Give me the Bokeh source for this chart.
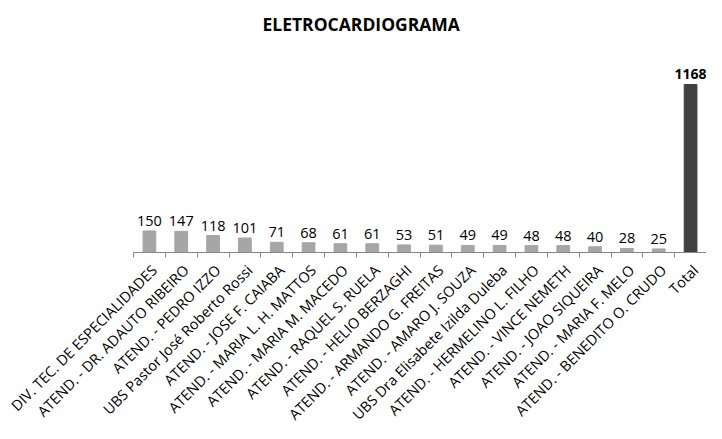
from math import pi
from bokeh.plotting import figure
from bokeh.models import Range1d, FixedTicker, ColumnDataSource, LabelSet, Label
from bokeh.embed import file_html
from bokeh.resources import INLINE
from bokeh.core.properties import value

title = "ELETROCARDIOGRAMA"
categories = [
    "DIV. TEC. DE ESPECIALIDADES",
    "ATEND. - DR. ADAUTO RIBEIRO",
    "ATEND. - PEDRO IZZO",
    "UBS Pastor José Roberto Rossi",
    "ATEND. - JOSE F. CAIABA",
    "ATEND. - MARIA L. H. MATTOS",
    "ATEND. - MARIA M. MACEDO",
    "ATEND. - RAQUEL S. RUELA",
    "ATEND. - HELIO BERZAGHI",
    "ATEND. - ARMANDO G. FREITAS",
    "ATEND. - AMARO J. SOUZA",
    "UBS Dra Elisabete Izilda Duleba",
    "ATEND. - HERMELINO L. FILHO",
    "ATEND. - VINCE NEMETH",
    "ATEND. - JOAO SIQUEIRA",
    "ATEND. - MARIA F. MELO",
    "ATEND. - BENEDITO O. CRUDO",
    "Total",
]
values = [150, 147, 118, 101, 71, 68, 61, 61, 53, 51, 49, 49, 48, 48, 40, 28, 25, 1168]

n = len(categories)
xs = [i + 0.5 for i in range(n)]
label_pos = [x + 0.15 for x in xs]
is_total = [c == "Total" for c in categories]
colors = ["#404040" if t else "#a6a6a6" for t in is_total]

src = ColumnDataSource(dict(x=xs, top=values, color=colors))
src_reg = ColumnDataSource(dict(x=[x for x, t in zip(xs, is_total) if not t],
                                y=[v for v, t in zip(values, is_total) if not t],
                                label=[str(v) for v, t in zip(values, is_total) if not t]))
src_tot = ColumnDataSource(dict(x=[x for x, t in zip(xs, is_total) if t],
                                y=[v for v, t in zip(values, is_total) if t],
                                label=[str(v) for v, t in zip(values, is_total) if t]))

p = figure(width=706, height=423, output_backend="svg", toolbar_location=None,
           x_range=Range1d(0, n), y_range=Range1d(0, max(values) * 1.5),
           min_border_left=133, min_border_right=0, min_border_top=0, min_border_bottom=171)
p.frame_height = 252
p.frame_width = 573

p.add_layout(Label(x=129, y=229, x_units="screen", y_units="screen", text=title,
                   text_align="left", text_baseline="alphabetic", text_font="Open Sans",
                   text_font_style="bold", text_font_size="17.5px", text_color="#000000"))

p.vbar(x="x", top="top", width=0.4, color="color", source=src)

p.add_layout(LabelSet(x="x", y="y", text="label", source=src_reg, text_align="center",
                      text_baseline="bottom", y_offset=5, text_font=value("Open Sans"),
                      text_font_size="14.5px", text_color="#000000"))
p.add_layout(LabelSet(x="x", y="y", text="label", source=src_tot, text_align="center",
                      text_baseline="bottom", y_offset=6, text_font=value("Open Sans"),
                      text_font_size="14px", text_font_style="bold", text_color="#000000"))

p.outline_line_color = None
p.xgrid.visible = False
p.ygrid.visible = False
p.yaxis.visible = False

ax = p.xaxis[0]
ax.ticker = FixedTicker(ticks=label_pos, minor_ticks=list(range(n + 1)))
ax.major_label_overrides = {x: c for x, c in zip(label_pos, categories)}
ax.major_tick_in = 0
ax.major_tick_out = 0
ax.minor_tick_in = 0
ax.minor_tick_out = 5
ax.minor_tick_line_color = "#868686"
ax.axis_line_color = "#868686"
ax.axis_label_standoff = 0
ax.major_label_orientation = pi / 4
ax.major_label_text_font = "Open Sans"
ax.major_label_text_font_size = "14.5px"
ax.major_label_text_color = "#000000"
ax.major_label_standoff = 10

open("out.html", "w").write(file_html(p, INLINE))
